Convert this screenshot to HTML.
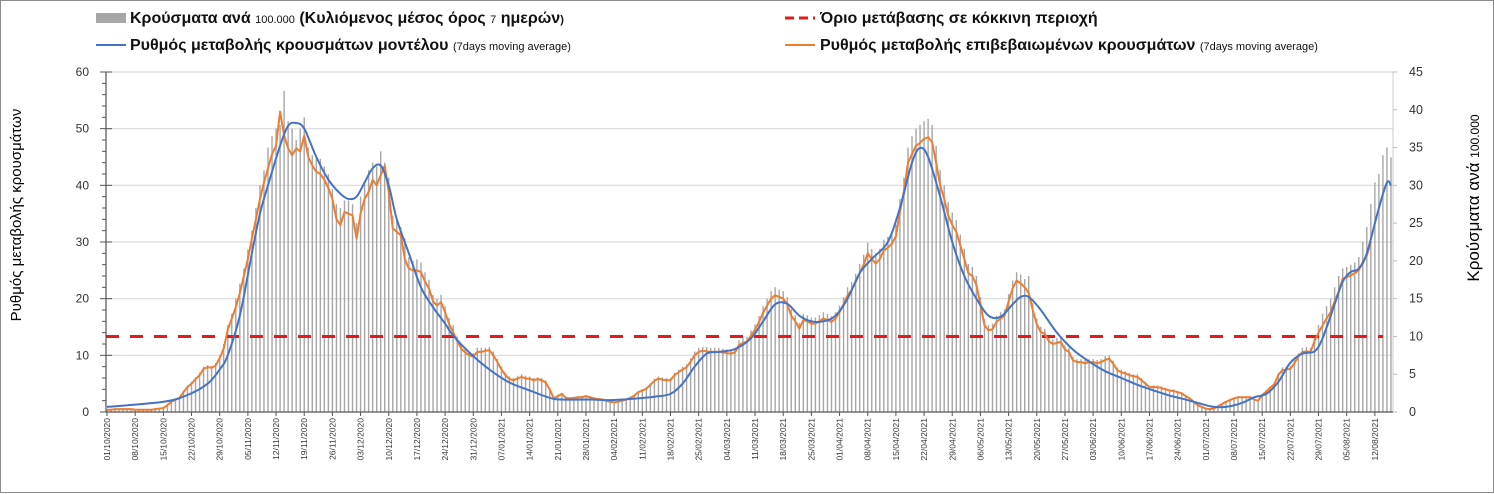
<!DOCTYPE html>
<html><head><meta charset="utf-8">
<style>
html,body{margin:0;padding:0;background:#fff;}
svg{display:block;font-family:"Liberation Sans",sans-serif;}
</style></head>
<body>
<svg id="chart" width="1494" height="494" viewBox="0 0 1494 494" xmlns="http://www.w3.org/2000/svg">
<rect x="0.5" y="0.5" width="1493" height="492" fill="#fff" stroke="#8c8c8c" stroke-width="1"/>
<g id="grid"></g>
<g id="bars"></g>
<g id="thresh"></g>
<g id="lines"></g>
<g id="axes"></g>
<g>
  <rect x="96" y="13" width="30" height="10" fill="#a6a6a6"/>
  <text x="130" y="23" font-size="16" font-weight="bold" fill="#111">Κρούσματα ανά <tspan font-size="11" font-weight="normal">100.000</tspan> (Κυλιόμενος μέσος όρος <tspan font-size="11" font-weight="normal">7</tspan> ημερών<tspan font-size="11">)</tspan></text>
  <line x1="96" y1="45" x2="126" y2="45" stroke="#4472c4" stroke-width="2"/>
  <text x="130" y="50" font-size="16" font-weight="bold" fill="#111">Ρυθμός μεταβολής κρουσμάτων μοντέλου <tspan font-size="11" font-weight="normal">(7days moving average)</tspan></text>
  <line x1="785" y1="18" x2="815" y2="18" stroke="#e31a1c" stroke-width="3" stroke-dasharray="9,5"/>
  <text x="820" y="23" font-size="16" font-weight="bold" fill="#111">Όριο μετάβασης σε κόκκινη περιοχή</text>
  <line x1="785" y1="45" x2="815" y2="45" stroke="#ed7d31" stroke-width="2"/>
  <text x="820" y="50" font-size="16" font-weight="bold" fill="#111">Ρυθμός μεταβολής επιβεβαιωμένων κρουσμάτων <tspan font-size="11" font-weight="normal">(7days moving average)</tspan></text>
</g>
<text transform="translate(21,215) rotate(-90)" text-anchor="middle" font-size="15" fill="#000">Ρυθμός μεταβολής κρουσμάτων</text>
<text transform="translate(1479,198) rotate(-90)" text-anchor="middle" font-size="17" fill="#000">Κρούσματα ανά <tspan font-size="12">100.000</tspan></text>
</svg>
<script>
const startDate = [2020, 10, 1];
const leftTicks = [0,10,20,30,40,50,60];
const rightTicks = [0,5,10,15,20,25,30,35,40,45];
const threshold = [10];
const orange = [
0.4,0.4,0.5,0.5,0.5,0.5,0.5,0.4,0.4,0.4,0.4,0.4,0.5,0.6,
0.7,1.2,1.8,2.2,2.5,3.5,4.4,
5.0,5.8,6.5,7.6,7.9,7.8,8.2,9.5,11.2,
14.5,16.5,18.5,21,24,27,30.6,34,37.6,40.5,
43,45.5,47,53,48.8,46.5,45.3,46.5,46,48.8,
45,43.5,42.4,42,41,39.5,37.6,34,33,35.3,
35,34.7,30.6,35,37.6,38.8,41,40,41.8,43.5,
38.8,32.4,31.8,31.2,27,25.3,25,25,24.7,23,
21.8,19.5,18.8,19.4,17.6,15.5,14.1,12.5,11.2,10.5,
10,9.8,10.6,10.6,10.8,10.9,10,8.8,7.5,6.5,
5.8,5.6,5.9,6.2,5.9,5.9,5.6,5.8,5.6,5.2,
4.0,2.4,2.8,3.2,2.5,2.4,2.5,2.6,2.6,2.8,
2.6,2.4,2.3,2.2,2.0,1.8,1.7,1.8,2.0,2.2,
2.5,2.9,3.5,3.8,4.1,4.8,5.5,5.9,5.7,5.6,
5.6,6.5,7.0,7.5,7.9,8.9,10.0,10.6,10.8,10.7,
10.6,10.6,10.6,10.5,10.4,10.3,10.5,11.8,12.2,12.4,
13.5,14.5,15.9,17.5,18.8,20,20.6,20.3,20,19,
17,16,14.7,16.2,16,15.6,15.6,16,16.5,16.2,
15.9,16.5,17.6,19,20.6,21.5,22.9,24.5,26,28,
27,26.2,27,28.5,29,29.7,31,35.3,39,44,
45.5,47,47.5,48.2,48.5,47.6,44,40,37.6,34.7,
33,31.8,29.4,27,24.5,24,22.4,19,15.3,14.4,
14.6,15.9,16.5,17,19.5,21.8,23.2,22.7,22,21,
18,15.5,14.1,13.8,12.5,12,12.2,12.4,11,10.6,
9.1,8.8,8.8,8.6,8.8,8.8,8.6,8.8,9.2,9.4,
8.5,7.4,7.0,6.8,6.5,6.3,6.2,5.6,5.0,4.4,
4.4,4.4,4.2,4.0,3.8,3.7,3.5,3.3,2.8,2.4,
1.8,1.2,0.9,0.6,0.5,0.6,1.0,1.4,1.8,2.1,
2.4,2.6,2.6,2.6,2.6,2.2,2.0,3.0,3.6,4.3,
4.9,6.5,7.4,7.5,7.6,8.6,9.8,10.6,10.7,10.6,
12.5,14,15.3,16.5,17.6,19.5,21.2,23.5,23.8,24.1,
24.5,25,26.5,27.6,30
];
const bars = [
0.3,0.3,0.4,0.4,0.4,0.4,0.4,0.3,0.3,0.3,0.3,0.3,0.4,0.5,
0.6,1.0,1.4,1.8,2.0,2.8,3.5,
4.0,4.6,5.2,6.0,6.2,6.1,6.5,7.5,9.0,
11.5,13,15,17,19,21.5,24,27,30,32,
35,36.5,37.5,38,42.5,38.5,37.5,36,37.5,39,
35,34,33.5,33.5,32.5,31.5,29.5,27.5,27,28,
28,27.5,25,28.5,30.5,32,33,32.5,34.5,33,
31,26,25.5,24.5,23,20.5,20,20.2,19.8,18.5,
17.5,15.5,15,15.5,14,12.5,11.5,10,9,8.5,
8,7.8,8.5,8.5,8.5,8.6,8.0,7.0,6.0,5.2,
4.7,4.5,4.8,5,4.8,4.7,4.5,4.6,4.5,4.2,
3.2,2,2.3,2.5,2.0,1.9,2.0,2.1,2.1,2.2,
2.1,1.9,1.8,1.8,1.6,1.5,1.4,1.5,1.6,1.8,
2.0,2.3,2.8,3.0,3.3,3.8,4.4,4.7,4.6,4.5,
4.5,5.2,5.6,6.0,6.3,7.1,8.0,8.5,8.6,8.6,
8.5,8.5,8.5,8.4,8.3,8.2,8.4,9.5,9.8,10,
10.8,11.6,12.7,14,15,16,16.5,16.2,16,15.2,
13.6,12.8,11.8,13,12.8,12.5,12.5,12.8,13.2,13,
12.7,13.2,14.1,15.2,16.5,17.2,18.3,19.6,20.8,22.4,
21.6,21,21.6,22.8,23.2,23.8,24.8,28.2,31,35,
36.5,37.5,38,38.5,38.8,38,35.2,32,30,27.8,
26.4,25.4,23.5,21.6,19.6,19.2,18,15.2,12.3,11.5,
11.7,12.7,13.2,13.6,15.6,17.4,18.5,18.2,17.6,18,
14.4,12.4,11.3,11,10,9.6,9.8,9.9,8.8,8.5,
7.3,7,7,6.9,7,7,6.9,7,7.4,7.5,
6.8,5.9,5.6,5.4,5.2,5,5,4.5,4,3.5,
3.5,3.5,3.4,3.2,3,3,2.8,2.6,2.2,1.9,
1.4,1,0.7,0.5,0.4,0.5,0.8,1.1,1.4,1.7,
1.9,2.1,2.1,2.1,2.1,1.8,1.6,2.4,2.9,3.4,
3.9,5.2,5.9,6,6.1,6.9,7.8,8.5,8.6,8.5,
10,11.5,13,14,15,16.5,18,19,19.2,19.5,
19.8,20.5,22.5,24.5,27.5,30.4,31.5,34,35,33.7
];
const blueDays = [0,14,20,25,28,30,33,36,38,40,43,45,47,49,52,55,58,60,62,64,66,68,70,72,75,78,81,84,86,90,95,100,105,110,113,120,125,130,136,140,143,146,149,152,156,160,163,166,169,172,175,178,181,184,187,190,194,197,200,202,204,207,210,213,216,219,222,225,227,229,232,236,240,244,248,252,256,260,264,268,272,275,278,282,285,288,291,294,297,300,302,305,307,309,311,313,316,318,319];
const blueVals = [0.9,1.8,3,5,7.5,10,17,28,35,40,47,50.5,51,50,45,41,38.5,37.6,38,40.5,43,43.5,40,34,28,22,18.5,15.6,13.5,10.5,7.5,5.2,3.8,2.5,2.2,2.2,2.1,2.3,2.7,3.2,5,8,10.3,10.6,11.1,13,16,19,19.1,17,16,16,17,20,24.5,27,30,36,44,46.6,45,38,30,24,20,17,16.8,19,20.3,20.3,18,14,11,8.9,7.2,6,4.8,3.8,2.9,2.2,1.4,0.9,0.9,1.6,2.6,3.2,5.3,8.7,10.3,10.7,13,19,23,24.7,25.3,28,36,40.5,40];

const NS = 'http://www.w3.org/2000/svg';
const X0 = 107, DX = 4.025, Y0 = 412, YT = 72;
const xs = d => X0 + DX * d;
const yL = v => Y0 - (Y0 - YT) * v / 60;
const yR = v => Y0 - (Y0 - YT) * v / 45;
function mk(tag, attrs, parent) {
  const e = document.createElementNS(NS, tag);
  for (const k in attrs) e.setAttribute(k, attrs[k]);
  parent.appendChild(e);
  return e;
}
const grid = document.getElementById('grid');
const axes = document.getElementById('axes');
const XR = 1393;
leftTicks.forEach(t => {
  if (t > 0) {
    const g = mk('line', {x1: 106, x2: XR, y1: yL(t), y2: yL(t), stroke: '#d9d9d9', 'stroke-width': 1.2}, grid);
    
    
  }
  const tk = mk('text', {x: 89, y: yL(t) + 4, 'text-anchor': 'end', 'font-size': 12, fill: '#333'}, axes);
  tk.textContent = t;
  
  
  mk('line', {x1: 100, x2: 112, y1: yL(t), y2: yL(t), stroke: '#555', 'stroke-width': 1}, axes);
});
for (let v = 2; v < 60; v += 2) {
  if (v % 10) mk('line', {x1: 102, x2: 106, y1: yL(v), y2: yL(v), stroke: '#555', 'stroke-width': 1}, axes);
}
rightTicks.forEach(t => {
  const tk = mk('text', {x: 1409, y: yR(t) + 4, 'font-size': 12.5, fill: '#333'}, axes);
  tk.textContent = t;
  
  
  mk('line', {x1: XR, x2: XR + 4, y1: yR(t), y2: yR(t), stroke: '#bbb', 'stroke-width': 1}, axes);
});
const la = mk('line', {x1: 106, x2: 106, y1: YT, y2: Y0, stroke: '#555', 'stroke-width': 1.2}, axes);


const ra = mk('line', {x1: XR, x2: XR, y1: YT, y2: Y0, stroke: '#ccc', 'stroke-width': 1}, axes);


const xa = mk('line', {x1: 106, x2: XR, y1: Y0, y2: Y0, stroke: '#555', 'stroke-width': 1.2}, axes);



const barsG = document.getElementById('bars');
bars.forEach((v, i) => {
  const b = mk('rect', {x: xs(i) - 0.7, y: yR(v), width: 1.4, height: Y0 - yR(v), fill: '#a6a6a6'}, barsG);
  
  
});

const nDays = bars.length;
for (let d = 0; d < nDays; d += 7) {
  const dt = new Date(startDate[0], startDate[1] - 1, startDate[2] + d);
  const lbl = String(dt.getDate()).padStart(2, '0') + '/' + String(dt.getMonth() + 1).padStart(2, '0') + '/' + dt.getFullYear();
  mk('line', {x1: xs(d), x2: xs(d), y1: Y0, y2: Y0 + 4, stroke: '#555', 'stroke-width': 1}, axes);
  const t = mk('text', {transform: 'translate(' + (xs(d) + 3) + ',' + (Y0 + 6) + ') rotate(-90)', 'text-anchor': 'end', 'font-size': 8.5, fill: '#333'}, axes);
  t.textContent = lbl;
  
  
}

const th = mk('line', {x1: 106, x2: 1383, y1: yR(threshold[0]), y2: yR(threshold[0]), stroke: '#e31a1c', 'stroke-width': 3, 'stroke-dasharray': '13,11'}, document.getElementById('thresh'));



const lines = document.getElementById('lines');
const op = mk('polyline', {points: orange.map((v, i) => xs(i) + ',' + yL(v)).join(' '), fill: 'none', stroke: '#ed7d31', 'stroke-width': 2, 'stroke-linejoin': 'round'}, lines);



const pts = blueDays.map((d, i) => [xs(d), yL(blueVals[i])]);
let dstr = 'M' + pts[0][0] + ',' + pts[0][1];
for (let i = 0; i < pts.length - 1; i++) {
  const p0 = pts[Math.max(0, i - 1)], p1 = pts[i], p2 = pts[i + 1], p3 = pts[Math.min(pts.length - 1, i + 2)];
  const c1 = [p1[0] + (p2[0] - p0[0]) / 6, p1[1] + (p2[1] - p0[1]) / 6];
  const c2 = [p2[0] - (p3[0] - p1[0]) / 6, p2[1] - (p3[1] - p1[1]) / 6];
  dstr += ' C' + c1.join(',') + ' ' + c2.join(',') + ' ' + p2.join(',');
}
const bp = mk('path', {d: dstr, fill: 'none', stroke: '#4472c4', 'stroke-width': 2}, lines);


</script>
</body></html>
